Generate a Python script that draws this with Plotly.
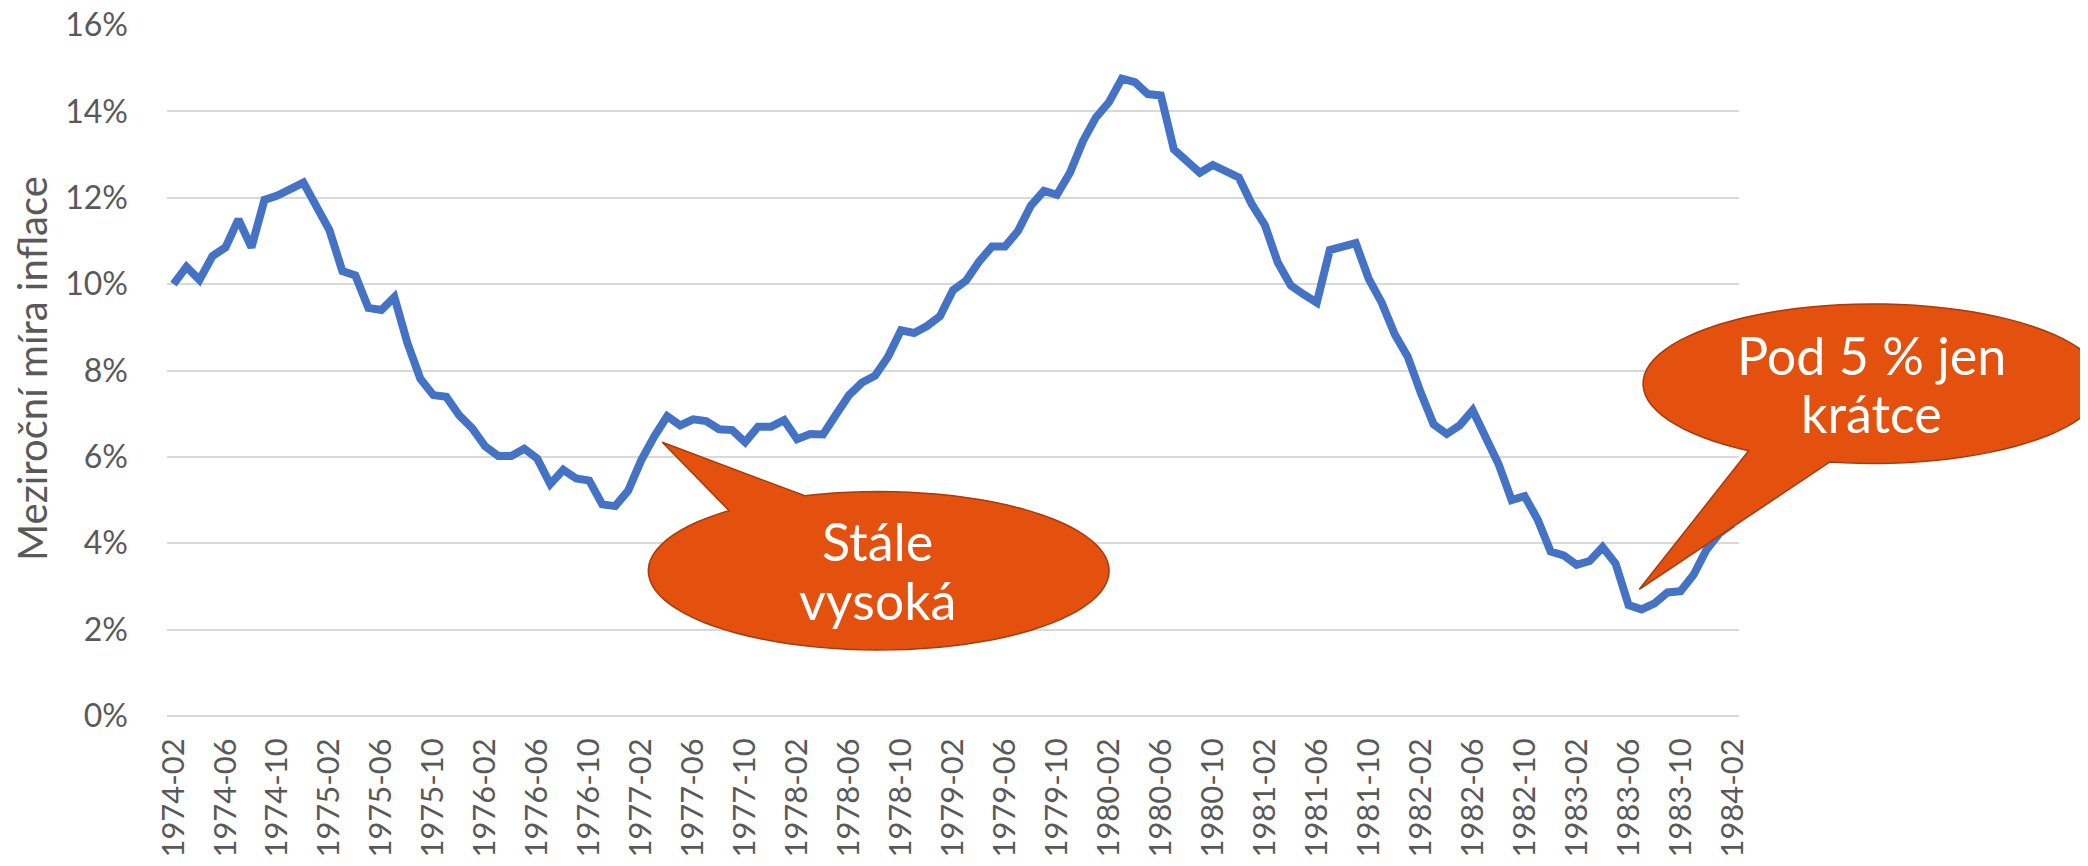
import math
import plotly.graph_objects as go

# months 1974-02 .. 1984-02
months = []
for k in range(121):
    m = 1 + k
    months.append("{}-{:02d}".format(1974 + m // 12, m % 12 + 1))

# year-on-year inflation, %
inflation = [
    10.0, 10.4, 10.1, 10.65, 10.85, 11.5, 10.85, 11.95, 12.05, 12.2,
    12.35, 11.8, 11.25, 10.3, 10.2, 9.45, 9.4, 9.7, 8.64, 7.81,
    7.43, 7.39, 6.96, 6.66, 6.24, 6.02, 6.02, 6.19, 5.96, 5.37,
    5.7, 5.5, 5.45, 4.9, 4.86, 5.22, 5.92, 6.47, 6.94, 6.73,
    6.87, 6.83, 6.64, 6.62, 6.34, 6.7, 6.7, 6.85, 6.41, 6.53,
    6.52, 6.98, 7.43, 7.72, 7.88, 8.32, 8.93, 8.87, 9.03, 9.26,
    9.86, 10.08, 10.52, 10.87, 10.87, 11.23, 11.82, 12.16, 12.07, 12.58,
    13.31, 13.86, 14.21, 14.76, 14.68, 14.4, 14.37, 13.12, 12.84, 12.58,
    12.76, 12.63, 12.47, 11.85, 11.37, 10.5, 9.97, 9.76, 9.57, 10.79,
    10.86, 10.95, 10.12, 9.57, 8.84, 8.32, 7.49, 6.75, 6.53, 6.73,
    7.08, 6.47, 5.83, 5.0, 5.09, 4.55, 3.81, 3.72, 3.5, 3.59,
    3.91, 3.53, 2.57, 2.47, 2.61, 2.86, 2.89, 3.27, 3.85, 4.23,
    4.45,
]

tick_months = months[::4]
y_ticks = [0, 2, 4, 6, 8, 10, 12, 14, 16]
y_tick_text = ["0%", "2%", "4%", "6%", "8%", "10%", "12%", "14%", "16%"]
y_title = "Meziroční míra inflace"
callout1_lines = ["Stále", "vysoká"]
callout2_lines = ["Pod 5 % jen", "krátce"]

# the page body has an 8px margin, so the figure is 8px smaller than the window
OFF = 8
W, H = 2088 - OFF, 866 - OFF
L, R, T, B = 159, 349, 17, 150
PW, PH = W - L - R, H - T - B


def px(x, y):
    # page pixel position -> paper coords of the plot area
    return (x - OFF - L) / PW, (H - B - (y - OFF)) / PH


def callout_path(cx, cy, rx, ry, base1, base2, tip, n=90):
    a1 = math.atan2((base1[1] - cy) / ry, (base1[0] - cx) / rx)
    a2 = math.atan2((base2[1] - cy) / ry, (base2[0] - cx) / rx)
    while a2 <= a1:
        a2 += 2 * math.pi
    pts = []
    for j in range(n + 1):
        a = a1 + (a2 - a1) * j / n
        pts.append(px(cx + rx * math.cos(a), cy + ry * math.sin(a)))
    pts.append(px(*tip))
    return "M " + " L ".join("{:.5f},{:.5f}".format(a, b) for a, b in pts) + " Z"


fig = go.Figure(go.Scatter(
    x=months, y=inflation, mode="lines",
    line=dict(color="#4472C4", width=8),
    hoverinfo="x+y",
))

orange = "#E4500E"
edge = "#A63B0B"
shapes = [
    dict(type="path", xref="paper", yref="paper", layer="above",
         path=callout_path(878.7, 570.8, 230.4, 79.2, (805, 496), (729.3, 510.7), (662.3, 442.3)),
         fillcolor=orange, line=dict(color=edge, width=1.5)),
    dict(type="path", xref="paper", yref="paper", layer="above",
         path=callout_path(1873, 383.7, 230, 79.7, (1750, 450), (1830, 461.7), (1639.3, 589.3)),
         fillcolor=orange, line=dict(color=edge, width=1.5)),
]

annotations = []
text_pos = [(877, 541), (877, 600), (1872, 355), (1872, 413)]
for (ax, ay), txt in zip(text_pos, callout1_lines + callout2_lines):
    x0, y0 = px(ax, ay)
    annotations.append(dict(xref="paper", yref="paper", x=x0, y=y0, text=txt,
                            showarrow=False, xanchor="center", yanchor="middle",
                            font=dict(family="Lato", size=52, color="white")))
tx, ty = px(32, 369)
annotations.append(dict(xref="paper", yref="paper", x=tx, y=ty, text=y_title,
                        textangle=-90, showarrow=False, xanchor="center", yanchor="middle",
                        font=dict(family="Lato", size=40, color="#595959")))

fig.update_layout(
    width=W, height=H,
    margin=dict(l=L, r=R, t=T, b=B, autoexpand=False),
    paper_bgcolor="white", plot_bgcolor="white",
    showlegend=False,
    shapes=shapes, annotations=annotations,
)
fig.update_xaxes(
    type="category", range=[-0.5, 120.5], automargin=False,
    tickmode="array", tickvals=tick_months, ticktext=tick_months,
    tickangle=-90, ticks="", showgrid=False, showline=False, zeroline=False,
    ticklabelstandoff=15, ticklabeloverflow="allow",
    tickfont=dict(family="Lato", size=31, color="#595959"),
)
fig.update_yaxes(
    range=[0, 16.0001], tickmode="array", tickvals=y_ticks, ticktext=y_tick_text,
    ticks="", automargin=False,
    showgrid=True, gridcolor="#D9D9D9", gridwidth=2,
    zeroline=True, zerolinecolor="#D9D9D9", zerolinewidth=2,
    showline=False, ticklabelstandoff=38, ticklabeloverflow="allow",
    tickfont=dict(family="Lato", size=32, color="#595959"),
)

fig.write_html("out.html")
